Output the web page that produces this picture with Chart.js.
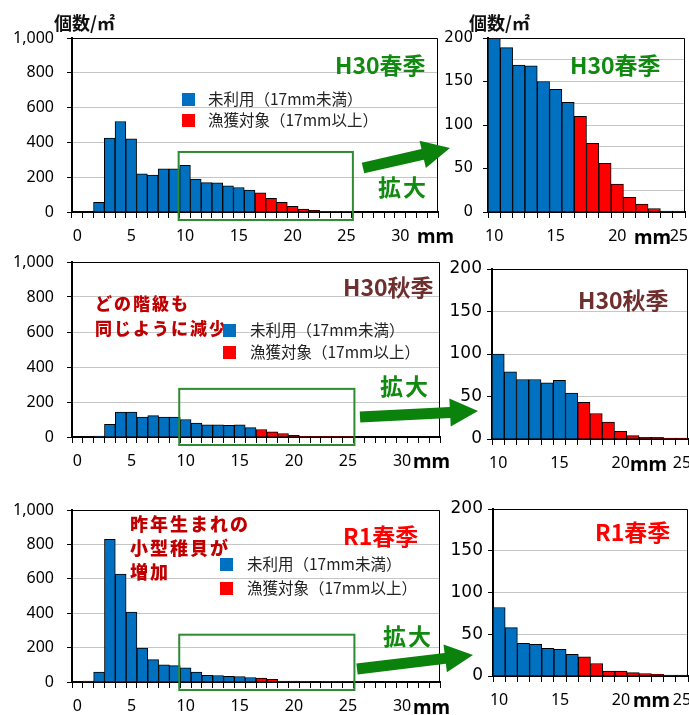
<!DOCTYPE html>
<html lang="ja">
<head>
<meta charset="utf-8">
<title>殻長組成</title>
<script src="https://cdn.jsdelivr.net/npm/chart.js@4.4.1/dist/chart.umd.min.js"></script>
<style>
  html, body { margin: 0; padding: 0; background: #fff; }
  #page { position: relative; width: 689px; height: 715px; overflow: hidden; font-family: 'Noto Sans CJK JP', 'Noto Sans', sans-serif; }
  .box { position: absolute; }
  .txt { position: absolute; white-space: nowrap; line-height: 1; }
  .ylab { font-size: 18px; font-weight: 700; color: #111; }
  .season { font-size: 23px; font-weight: 700; }
  .zoom { font-size: 23px; font-weight: 700; color: #128a12; letter-spacing: 2px; }
  .note { font-size: 17px; font-weight: 900; color: #c00000; letter-spacing: 2px; line-height: 25px; }
  .mm { font-family: 'Noto Sans', sans-serif; font-size: 19px; font-weight: 700; color: #000; }
  .leg { font-size: 15.5px; color: #222; }
  .leg i { position: absolute; width: 13px; height: 13px; }
  .leg span { position: absolute; }
  svg { position: absolute; left: 0; top: 0; }
</style>
</head>
<body>
<div id="page">
  <div class="box" id="b1"><canvas id="c1"></canvas></div>
  <div class="box" id="b2"><canvas id="c2"></canvas></div>
  <div class="box" id="b3"><canvas id="c3"></canvas></div>
  <div class="box" id="b4"><canvas id="c4"></canvas></div>
  <div class="box" id="b5"><canvas id="c5"></canvas></div>
  <div class="box" id="b6"><canvas id="c6"></canvas></div>

  <svg id="arrows" width="689" height="715"></svg>

  <div class="txt ylab" style="left:54px;top:13px">個数/㎡</div>
  <div class="txt ylab" style="left:469px;top:13px">個数/㎡</div>

  <div class="txt season" style="left:335px;top:53px;color:#128a12">H30春季</div>
  <div class="txt season" style="left:570px;top:53px;color:#128a12">H30春季</div>
  <div class="txt season" style="left:343px;top:275px;color:#6e2f2f">H30秋季</div>
  <div class="txt season" style="left:578px;top:288px;color:#6e2f2f">H30秋季</div>
  <div class="txt season" style="left:343px;top:524px;color:#ff0000">R1春季</div>
  <div class="txt season" style="left:595px;top:520px;color:#ff0000">R1春季</div>

  <div class="txt zoom" style="left:378px;top:175px">拡大</div>
  <div class="txt zoom" style="left:380px;top:374px">拡大</div>
  <div class="txt zoom" style="left:383px;top:624px">拡大</div>

  <div class="txt note" style="left:95px;top:290px">どの階級も<br>同じように減少</div>
  <div class="txt note" style="left:130px;top:511px;font-size:18px;line-height:24px">昨年生まれの<br>小型稚貝が<br>増加</div>

  <div class="txt mm" style="left:417px;top:227px">mm</div>
  <div class="txt mm" style="left:413px;top:452px">mm</div>
  <div class="txt mm" style="left:413px;top:698px">mm</div>
  <div class="txt mm" style="left:634px;top:228px">mm</div>
  <div class="txt mm" style="left:630px;top:455px">mm</div>
  <div class="txt mm" style="left:633px;top:691px">mm</div>
</div>

<script>
// 殻長階級 (mm)
const sizeMm = [0, 1, 2, 3, 4, 5, 6, 7, 8, 9, 10, 11, 12, 13, 14, 15, 16,
                17, 18, 19, 20, 21, 22, 23, 24, 25, 26, 27, 28, 29, 30, 31, 32, 33];
const catchSize = 17;          // 17mm以上が漁獲対象
const zoomFrom = 10, zoomTo = 25;

// 個数/㎡
const springH30 = [0, 0, 55, 425, 520, 420, 220, 212, 248, 248, 268, 189, 169, 168, 150, 141, 126,
                   110, 79, 56, 32, 17, 9, 4, 1, 1, 0, 0, 0, 3, 0, 0, 0, 0];
const autumnH30 = [0, 0, 5, 72, 143, 143, 114, 122, 114, 114, 100, 79, 70, 70, 66, 69, 54,
                   43, 30, 20, 9, 4, 2, 2, 1, 1, 0, 0, 0, 0, 0, 0, 0, 0];
const springR1  = [0, 6, 58, 830, 627, 406, 197, 130, 100, 95, 82, 58, 39, 38, 33, 32, 26,
                   23, 15, 6, 6, 4, 3, 2, 1, 1, 2, 0, 0, 3, 0, 0, 0, 0];

// y軸: 全体図 0–1000 (目盛線100毎), 拡大図 0–200 (目盛線25毎)
const fullAxis = { max: 1000, step: 100 };
const zoomAxis = { max: 200, step: 25 };

const legendLabels = ['未利用（17mm未満）', '漁獲対象（17mm以上）'];
const zoomBoxTop = [345, 275, 275];

const BLUE = '#0070c0', RED = '#ff0000';
const PAD_T = 12, PAD_R = 4, X_H = 40;

const framePlugin = {
  id: 'frame',
  afterDatasetsDraw(chart, args, opts) {
    const { ctx, chartArea: a } = chart;
    ctx.save();
    ctx.strokeStyle = '#000';
    ctx.lineWidth = 1;
    ctx.beginPath();
    ctx.moveTo(a.left, a.top + 0.5);
    ctx.lineTo(a.right - 0.5, a.top + 0.5);
    ctx.lineTo(a.right - 0.5, a.bottom);
    ctx.stroke();
    if (opts.boxTop) {
      const x = chart.scales.x, y = chart.scales.y;
      const half = (x.getPixelForValue(1) - x.getPixelForValue(0)) / 2;
      const l = x.getPixelForValue(sizeMm.indexOf(zoomFrom)) - half - 1;
      const r = x.getPixelForValue(sizeMm.indexOf(zoomTo)) + half + 1;
      const t = y.getPixelForValue(opts.boxTop);
      const b = y.getPixelForValue(0) + 8;
      ctx.strokeStyle = '#2e8b32';
      ctx.lineWidth = 2;
      ctx.strokeRect(l, t, r - l, b - t);
    }
    ctx.restore();
  }
};

function histogram(n, sizes, counts, o) {
  const [pl, pt, pr, pb] = o.plot;
  const box = document.getElementById('b' + n);
  Object.assign(box.style, {
    left: o.left + 'px', top: (pt - PAD_T) + 'px',
    width: (pr + PAD_R - o.left) + 'px', height: (pb - pt + PAD_T + X_H) + 'px'
  });
  const { max, step } = o.axis;
  const labelled = v => Math.round(v / step) % 2 === 0;
  return new Chart(document.getElementById('c' + n), {
    type: 'bar',
    data: {
      labels: sizes,
      datasets: [{
        data: counts,
        backgroundColor: sizes.map(s => s >= catchSize ? RED : BLUE),
        borderColor: '#000',
        borderWidth: 1,
        borderSkipped: 'bottom',
        barPercentage: 1,
        categoryPercentage: 1
      }]
    },
    options: {
      responsive: true,
      maintainAspectRatio: false,
      animation: false,
      layout: { padding: { top: PAD_T, right: PAD_R, left: 0, bottom: 0 } },
      plugins: {
        legend: { display: false },
        tooltip: { enabled: false },
        frame: { boxTop: o.boxTop }
      },
      scales: {
        x: {
          grid: { offset: true, drawOnChartArea: false, tickLength: 6, color: '#000' },
          border: { color: '#000', width: 2 },
          ticks: {
            autoSkip: false, maxRotation: 0, padding: 9, color: '#000',
            font: { family: 'Noto Sans', size: 16 },
            callback: (v, i) => sizes[i] % 5 === 0 ? String(sizes[i]) : ''
          },
          afterFit(s) { s.height = X_H; s.paddingLeft = 0; s.paddingRight = 0; }
        },
        y: {
          min: 0, max: max,
          ticks: {
            stepSize: step, padding: o.tickPad, color: '#000',
            font: o.yFont,
            callback: v => labelled(v) ? v.toLocaleString('en-US') : ''
          },
          grid: {
            color: c => c.tick && c.tick.value === 0 ? 'rgba(0,0,0,0)' : '#c6c6c6',
            tickColor: c => c.tick && labelled(c.tick.value) ? '#000' : 'rgba(0,0,0,0)',
            tickLength: 5
          },
          border: { color: '#000', width: 2 },
          afterFit(s) { s.width = pl - o.left; s.paddingTop = 0; s.paddingBottom = 0; }
        }
      }
    },
    plugins: [framePlugin]
  });
}

const zoomIdx = [sizeMm.indexOf(zoomFrom), sizeMm.indexOf(zoomTo) + 1];
const zoomSizes = sizeMm.slice(...zoomIdx);
const leftFont = { family: 'Noto Sans', size: 16 };

histogram(1, sizeMm, springH30, { left: 0, plot: [72, 38, 438, 212], axis: fullAxis, tickPad: 13, yFont: leftFont, boxTop: zoomBoxTop[0] });
histogram(2, zoomSizes, springH30.slice(...zoomIdx), { left: 440, plot: [488, 38, 685, 212], axis: zoomAxis, tickPad: 10, yFont: { family: 'DejaVu Sans', size: 15 } });
histogram(3, sizeMm, autumnH30, { left: 0, plot: [72, 262, 440, 437], axis: fullAxis, tickPad: 13, yFont: leftFont, boxTop: zoomBoxTop[1] });
histogram(4, zoomSizes, autumnH30.slice(...zoomIdx), { left: 440, plot: [492, 269, 688, 439], axis: zoomAxis, tickPad: 5, yFont: { family: 'DejaVu Sans', size: 17 } });
histogram(5, sizeMm, springR1, { left: 0, plot: [72, 510, 440, 682], axis: fullAxis, tickPad: 13, yFont: leftFont, boxTop: zoomBoxTop[2] });
histogram(6, zoomSizes, springR1.slice(...zoomIdx), { left: 440, plot: [493, 509, 688, 676], axis: zoomAxis, tickPad: 5, yFont: { family: 'DejaVu Sans', size: 17 } });

// 凡例 (各左パネル内)
const legendSpots = [[182, 93, 208, 21], [223, 324, 250, 22], [220, 558, 247, 24]];
const page = document.getElementById('page');
legendSpots.forEach(([sx, sy, tx, gap]) => {
  [BLUE, RED].forEach((col, k) => {
    const d = document.createElement('div');
    d.className = 'txt leg';
    d.style.left = '0px';
    d.style.top = '0px';
    d.innerHTML = `<i style="left:${sx}px;top:${sy + k * gap}px;background:${col}"></i>` +
                  `<span style="left:${tx}px;top:${sy + k * gap - 2}px">${legendLabels[k]}</span>`;
    page.appendChild(d);
  });
});

// 拡大矢印
const arrows = [
  { from: [363, 168], to: [450, 148] },
  { from: [360, 417], to: [478, 411] },
  { from: [357, 669], to: [473, 655] }
];
const svg = document.getElementById('arrows');
arrows.forEach(({ from, to }) => {
  const [x0, y0] = from, [x1, y1] = to;
  const len = Math.hypot(x1 - x0, y1 - y0);
  const ux = (x1 - x0) / len, uy = (y1 - y0) / len, nx = -uy, ny = ux;
  const sw = 5.5, hw = 14, hl = 28;
  const bx = x1 - ux * hl, by = y1 - uy * hl;
  const pts = [
    [x0 + nx * sw, y0 + ny * sw], [bx + nx * sw, by + ny * sw], [bx + nx * hw, by + ny * hw],
    [x1, y1],
    [bx - nx * hw, by - ny * hw], [bx - nx * sw, by - ny * sw], [x0 - nx * sw, y0 - ny * sw]
  ];
  const p = document.createElementNS('http://www.w3.org/2000/svg', 'polygon');
  p.setAttribute('points', pts.map(q => q.join(',')).join(' '));
  p.setAttribute('fill', '#0b820b');
  svg.appendChild(p);
});
</script>
</body>
</html>
